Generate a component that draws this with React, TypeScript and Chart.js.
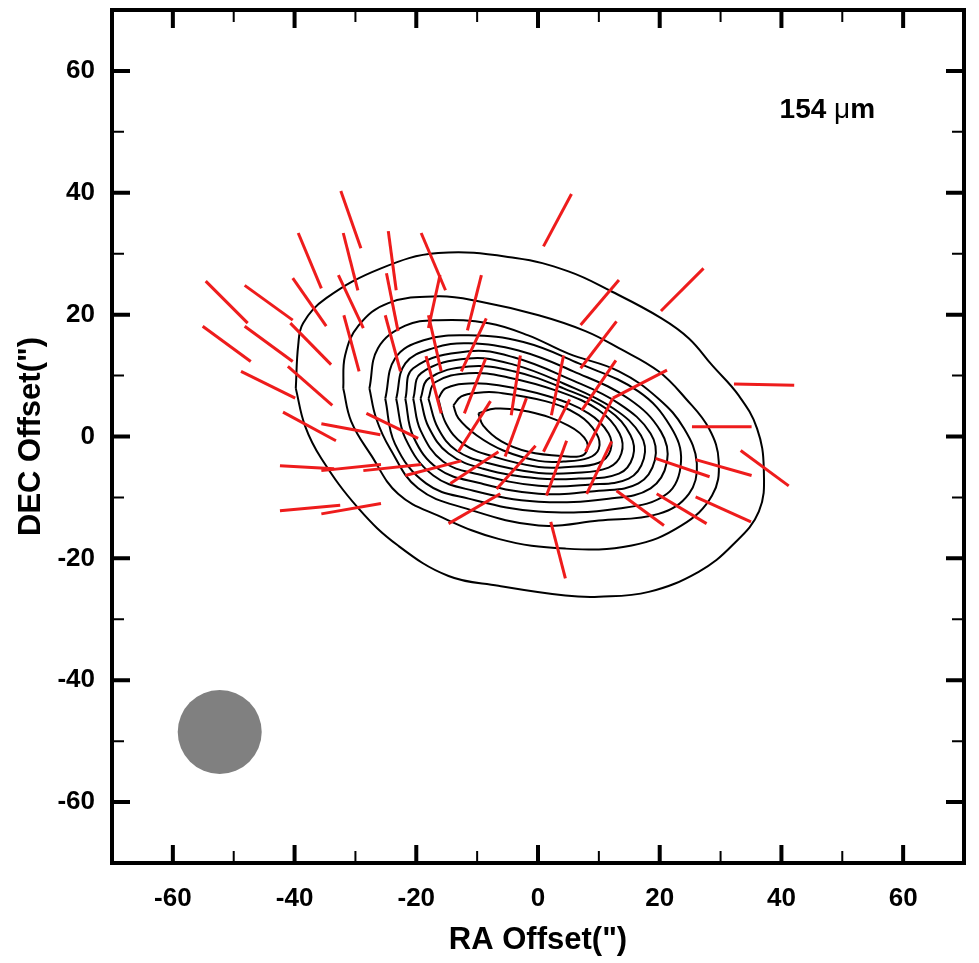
import { useEffect, useRef } from 'react';
import { Chart, registerables } from 'chart.js';

Chart.register(...registerables);

const FONT = "'Liberation Sans', Arial, Helvetica, sans-serif";

// ---- axes ----
const axisMin = -70;
const axisMax = 70;
const tickStep = 10;
const labelStep = 20;
const xTitle = 'RA Offset(")';
const yTitle = 'DEC Offset(")';

// ---- wavelength label ----
const labelNumber = '154';
const labelUnit = 'μ';
const labelUnitTail = 'm';
const labelX = 39.7;
const labelY = 52.3;

// ---- beam ----
const beamX = -52.3;
const beamY = -48.5;
const beamRadius = 6.9;

// ---- intensity contours (RA, DEC offsets in arcsec), outer to inner ----
const contour1: [number, number][] = [
  [-39.8, 7.9], [-39.4, 15.0], [-38.6, 18.6], [-34.8, 22.7], [-25.8, 27.6], [-16.4, 30.1], [-3.7, 29.3],
  [5.0, 27.1], [12.1, 23.8], [20.3, 19.4], [24.8, 16.1], [28.6, 11.7], [33.0, 6.7], [36.0, 1.3], [37.1, -5.3],
  [36.3, -12.3], [31.9, -17.9], [26.4, -22.2], [18.2, -25.5], [10.0, -26.3], [4.5, -26.1], [-6.5, -24.5],
  [-14.7, -22.9], [-23.0, -17.9], [-29.5, -11.8], [-35.6, -3.6], [-38.3, 1.8], [-39.8, 7.9],
];
const contour2: [number, number][] = [
  [-32.0, 7.9], [-31.7, 13.3], [-29.5, 18.2], [-24.6, 21.9], [-16.4, 23.0], [-9.8, 22.2], [0.1, 19.9],
  [7.8, 17.3], [13.3, 14.5], [19.8, 10.7], [24.3, 6.2], [28.1, 1.3], [29.7, -4.1], [28.6, -9.7], [23.6, -14.6],
  [15.4, -17.9], [4.5, -18.4], [-6.5, -16.8], [-16.4, -13.0], [-23.0, -9.4], [-27.4, -3.1], [-30.7, 2.5], [-32.0, 7.9],
];
const contour3: [number, number][] = [
  [-27.7, 7.9], [-26.3, 14.5], [-21.8, 18.2], [-16.4, 19.1], [-8.1, 18.6], [-1.6, 16.6], [5.0, 13.6],
  [13.3, 10.7], [19.8, 6.2], [24.0, 1.3], [26.1, -4.4], [24.8, -9.4], [19.8, -12.7], [10.0, -13.8],
  [0.1, -14.6], [-11.9, -11.8], [-19.7, -8.5], [-24.3, -2.0], [-26.6, 3.0], [-27.7, 7.9],
];
const contour4: [number, number][] = [
  [-25.1, 6.2], [-23.5, 12.8], [-18.8, 15.8], [-11.4, 16.6], [-2.4, 15.5], [6.7, 12.0], [16.5, 7.4],
  [21.8, 1.6], [23.5, -4.1], [21.2, -9.4], [13.3, -11.8], [0.1, -12.3], [-11.4, -10.2], [-18.4, -7.7],
  [-23.5, -1.2], [-25.1, 6.2],
];
const contour5: [number, number][] = [
  [-23.3, 6.2], [-21.8, 12.0], [-17.2, 14.5], [-11.4, 15.3], [-3.2, 14.1], [5.8, 10.7], [14.9, 6.2],
  [20.2, 0.8], [21.2, -4.1], [18.5, -8.5], [11.6, -10.2], [0.1, -10.7], [-10.6, -8.9], [-17.2, -6.4],
  [-21.8, -0.3], [-23.3, 6.2],
];
const contour6: [number, number][] = [
  [-21.8, 6.2], [-20.5, 11.2], [-11.4, 14.0], [-4.0, 13.0], [5.0, 9.5], [13.3, 5.4], [18.5, 0.5],
  [19.2, -3.9], [16.5, -7.7], [10.0, -8.9], [0.1, -9.4], [-9.8, -7.6], [-16.4, -5.3], [-20.5, 0.0], [-21.8, 6.2],
];
const contour7: [number, number][] = [
  [-20.5, 6.2], [-19.2, 10.4], [-11.4, 12.8], [-4.0, 11.8], [4.2, 8.7], [12.4, 4.6], [16.9, 0.2],
  [17.4, -3.6], [14.9, -6.9], [8.3, -7.9], [0.1, -8.1], [-9.8, -6.2], [-15.6, -4.1], [-19.3, 1.0], [-20.5, 6.2],
];
const contour8: [number, number][] = [
  [-19.3, 6.2], [-18.0, 9.5], [-11.4, 11.5], [-4.0, 10.7], [4.2, 7.9], [11.6, 4.3], [15.2, 0.2],
  [15.6, -3.3], [13.3, -6.1], [6.7, -6.9], [0.1, -6.9], [-9.0, -5.3], [-14.7, -2.8], [-18.0, 1.6], [-19.3, 6.2],
];
const contour9: [number, number][] = [
  [-18.0, 6.2], [-16.9, 8.9], [-11.4, 10.4], [-4.9, 9.7], [3.4, 7.4], [10.0, 4.3], [13.4, 0.5],
  [13.7, -2.8], [11.6, -5.1], [5.8, -6.0], [0.1, -6.0], [-8.1, -4.4], [-13.4, -2.3], [-16.4, 1.3], [-18.0, 6.2],
];
const contour10: [number, number][] = [
  [-16.4, 6.2], [-15.2, 7.9], [-11.4, 8.7], [-6.5, 8.4], [1.7, 6.6], [8.3, 3.8], [11.6, 0.5],
  [11.9, -2.3], [10.0, -4.3], [5.0, -5.0], [0.1, -5.0], [-7.3, -3.3], [-12.3, -1.2], [-15.1, 2.1], [-16.4, 6.2],
];
const contour11: [number, number][] = [
  [-13.9, 5.1], [-12.6, 6.6], [-9.8, 7.2], [-6.5, 7.2], [1.2, 5.8], [6.7, 3.5], [9.6, 0.5],
  [10.0, -2.0], [8.3, -3.5], [4.2, -4.1], [0.1, -4.0], [-5.7, -2.3], [-10.1, 0.2], [-13.1, 3.0], [-13.9, 5.1],
];
const contour12: [number, number][] = [
  [-9.8, 3.8], [-7.0, 4.6], [-1.6, 4.1], [5.0, 1.8], [8.0, -0.8], [7.5, -3.0], [3.9, -3.2],
  [-1.6, -2.5], [-6.0, -0.8], [-9.0, 1.8], [-9.8, 3.8],
];
const contours = [
  contour1, contour2, contour3, contour4, contour5, contour6,
  contour7, contour8, contour9, contour10, contour11, contour12,
];

// ---- polarization vectors: start and end (RA, DEC offsets in arcsec) ----
const vecX0 = [
  -32.4, -39.4, -32.0, -24.6, -19.2, -40.3, -32.8, -24.9, -16.1, -9.3,
  -8.5, -8.6, -2.9, -1.9, -7.8, -18.4, -25.1, -31.9, -48.2, -48.2,
  -41.1, -40.7, -48.8, -41.9, -35.6, -28.2, -42.4, -35.6, -28.7, -21.8,
  -42.4, -35.6, -14.7, -14.4, -6.8, 1.4, 2.1, 0.9, 4.2, 12.8,
  12.9, 13.3, 27.2, 5.5, 21.2, 12.3, 12.1, 12.9, 19.3, 19.5,
  25.9, 25.9, 25.3, 32.2, 33.3, -54.6, -55.1, -18.0,
];
const vecY0 = [
  40.3, 33.4, 33.4, 33.7, 33.4, 26.0, 26.5, 26.8, 26.5, 26.5,
  19.4, 12.8, 13.3, 6.3, 5.8, 13.2, 19.9, 19.9, 24.8, 18.1,
  11.5, 18.6, 10.7, 4.0, 2.1, 3.8, -4.8, -5.6, -5.6, -6.4,
  -12.2, -12.7, -14.3, -7.7, -8.6, -9.7, -14.0, -2.5, 13.3, 12.5,
  18.9, 25.7, 27.6, 39.8, 10.9, 6.3, -0.8, -8.9, -3.6, -9.4,
  -3.8, -9.9, 1.6, 8.6, -2.3, 25.5, 18.1, 19.9,
];
const vecX1 = [
  -29.1, -35.6, -29.6, -23.3, -15.2, -34.8, -28.7, -23.0, -18.0, -11.6,
  -12.6, -12.1, -4.4, -5.4, -13.1, -15.9, -22.6, -29.4, -40.3, -40.3,
  -33.8, -34.0, -39.9, -33.2, -25.9, -19.7, -33.5, -25.8, -19.2, -12.6,
  -32.5, -25.8, -6.2, -6.5, -0.4, 4.7, 4.5, 5.2, 2.2, 7.2,
  7.0, 7.0, 20.2, 0.9, 12.3, 7.8, 8.0, 20.7, 28.2, 27.7,
  35.1, 35.0, 35.1, 42.1, 41.2, -47.7, -47.2, -15.9,
];
const vecY1 = [
  30.9, 24.3, 24.0, 24.0, 24.0, 18.1, 17.8, 17.3, 17.8, 17.4,
  10.7, 3.8, 3.5, -3.3, -2.5, 3.8, 10.7, 10.7, 19.1, 12.3,
  5.1, 11.8, 6.3, -0.7, 0.3, -0.3, -5.3, -4.6, -4.6, -4.0,
  -11.3, -11.0, -9.4, -2.5, -1.5, -0.7, -23.3, 6.1, 3.5, 4.3,
  11.2, 18.3, 20.6, 31.2, 6.3, -2.5, -9.4, -14.6, -6.6, -14.3,
  -6.4, -14.0, 1.6, 8.4, -8.1, 18.6, 12.3, 10.7,
];

const framePlugin = {
  id: 'frameAndMarks',
  beforeDatasetsDraw(chart: any) {
    const { ctx, scales } = chart;
    const x = scales.x;
    const y = scales.y;
    const cx = x.getPixelForValue(beamX);
    const cy = y.getPixelForValue(beamY);
    const r = Math.abs(x.getPixelForValue(beamX + beamRadius) - cx);
    ctx.save();
    ctx.fillStyle = '#808080';
    ctx.beginPath();
    ctx.arc(cx, cy, r, 0, Math.PI * 2);
    ctx.fill();
    ctx.restore();
  },
  afterDatasetsDraw(chart: any) {
    const { ctx, chartArea: a, scales } = chart;
    const x = scales.x;
    const y = scales.y;
    ctx.save();
    ctx.strokeStyle = '#000';
    ctx.lineCap = 'butt';
    for (let v = axisMin + tickStep; v < axisMax; v += tickStep) {
      const major = Math.abs(v % labelStep) === 0;
      const len = major ? 18 : 12;
      ctx.lineWidth = major ? 4 : 2;
      const px = x.getPixelForValue(v);
      const py = y.getPixelForValue(v);
      ctx.beginPath();
      ctx.moveTo(px, a.bottom);
      ctx.lineTo(px, a.bottom - len);
      ctx.moveTo(px, a.top);
      ctx.lineTo(px, a.top + len);
      ctx.moveTo(a.left, py);
      ctx.lineTo(a.left + len, py);
      ctx.moveTo(a.right, py);
      ctx.lineTo(a.right - len, py);
      ctx.stroke();
    }
    ctx.lineWidth = 4;
    ctx.lineJoin = 'miter';
    ctx.strokeRect(a.left, a.top, a.right - a.left, a.bottom - a.top);

    // wavelength label
    let tx = x.getPixelForValue(labelX);
    const ty = y.getPixelForValue(labelY);
    ctx.fillStyle = '#000';
    ctx.textBaseline = 'alphabetic';
    ctx.textAlign = 'left';
    ctx.font = `bold 28px ${FONT}`;
    ctx.fillText(labelNumber, tx, ty);
    tx += ctx.measureText(labelNumber + ' ').width;
    ctx.font = `28px ${FONT}`;
    ctx.fillText(labelUnit, tx, ty);
    tx += ctx.measureText(labelUnit).width;
    ctx.font = `bold 28px ${FONT}`;
    ctx.fillText(labelUnitTail, tx, ty);
    ctx.restore();
  },
};

const fixBox = (s: any, w: number | null, h: number | null) => {
  if (w !== null) s.width = w;
  if (h !== null) s.height = h;
  s.paddingTop = 0;
  s.paddingBottom = 0;
  s.paddingLeft = 0;
  s.paddingRight = 0;
};

export default function App() {
  const canvasRef = useRef<HTMLCanvasElement | null>(null);

  useEffect(() => {
    if (!canvasRef.current) return;

    const contourSets = contours.map((c) => ({
      data: c.map(([cx, cy]) => ({ x: cx, y: cy })),
      showLine: true,
      borderColor: '#000',
      borderWidth: 2,
      tension: 0.4,
      pointRadius: 0,
      pointHoverRadius: 0,
      fill: false,
      order: 2,
    }));

    const vectorSets = vecX0.map((_, i) => ({
      data: [
        { x: vecX0[i], y: vecY0[i] },
        { x: vecX1[i], y: vecY1[i] },
      ],
      showLine: true,
      borderColor: '#ee1c1c',
      borderWidth: 3,
      borderCapStyle: 'butt',
      tension: 0,
      pointRadius: 0,
      pointHoverRadius: 0,
      fill: false,
      order: 1,
    }));

    const tickFont = { family: FONT, size: 26, weight: 'bold' as const };
    const titleFont = { family: FONT, size: 31, weight: 'bold' as const };

    const chart = new Chart(canvasRef.current, {
      type: 'scatter',
      data: { datasets: [...vectorSets, ...contourSets] as any },
      options: {
        animation: false,
        responsive: false,
        devicePixelRatio: 1,
        events: [],
        layout: { padding: { top: 10, right: 15, left: 0, bottom: 0 } },
        plugins: {
          legend: { display: false },
          tooltip: { enabled: false },
        },
        scales: {
          x: {
            type: 'linear',
            position: 'bottom',
            min: axisMin,
            max: axisMax,
            afterFit: (s: any) => fixBox(s, null, 100),
            grid: { display: false, drawTicks: false },
            border: { display: false },
            ticks: {
              stepSize: tickStep,
              autoSkip: false,
              maxRotation: 0,
              padding: 20,
              color: '#000',
              font: tickFont,
              callback: (v: any) => (Math.abs(Number(v) % labelStep) === 0 ? String(v) : ''),
            },
            title: {
              display: true,
              text: xTitle,
              color: '#000',
              font: titleFont,
              padding: { top: 0, bottom: 4 },
            },
          },
          y: {
            type: 'linear',
            position: 'left',
            min: axisMin,
            max: axisMax,
            afterFit: (s: any) => fixBox(s, 112, null),
            grid: { display: false, drawTicks: false },
            border: { display: false },
            ticks: {
              stepSize: tickStep,
              autoSkip: false,
              padding: 17,
              color: '#000',
              font: tickFont,
              callback: (v: any) => (Math.abs(Number(v) % labelStep) === 0 ? String(v) : ''),
            },
            title: {
              display: true,
              text: yTitle,
              color: '#000',
              font: titleFont,
              padding: { top: 13, bottom: 0 },
            },
          },
        },
      },
      plugins: [framePlugin],
    });

    return () => chart.destroy();
  }, []);

  return (
    <div style={{ position: 'fixed', left: 0, top: 0, width: 979, height: 963, background: '#fff' }}>
      <canvas ref={canvasRef} width={979} height={963} style={{ display: 'block', width: 979, height: 963 }} />
    </div>
  );
}
